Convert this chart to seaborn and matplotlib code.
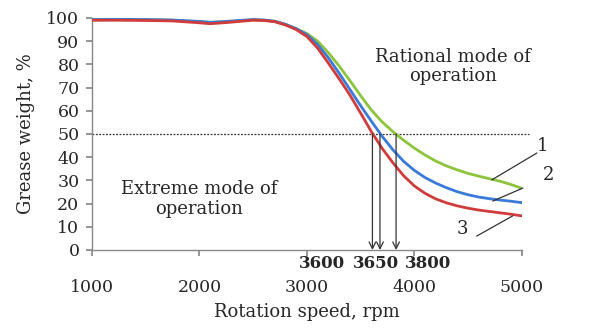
import numpy as np
import matplotlib
matplotlib.use("Agg")
import matplotlib.pyplot as plt
import seaborn as sns
import pandas as pd

sns.set_theme(style="ticks")
plt.rcParams['font.family'] = ['DejaVu Serif', 'Liberation Serif']

#%% data
speed = [1000, 1250, 1500, 1750, 2000, 2100, 2250, 2500, 2600, 2700, 2800,
         2900, 3000, 3100, 3200, 3300, 3400, 3500, 3600, 3700, 3800, 3900,
         4000, 4100, 4200, 4300, 4400, 4500, 4600, 4700, 4800, 4900, 5000]
curve1 = [99.2, 99.3, 99.2, 99.0, 98.4, 98.1, 98.4, 99.2, 99.0, 98.4, 97.0,
          95.4, 93.3, 90.0, 85.0, 79.3, 73.0, 66.5, 60.3, 55.2, 51.0, 47.3,
          43.9, 40.9, 38.3, 36.2, 34.5, 33.0, 31.8, 30.7, 29.6, 28.2, 26.6]
curve2 = [99.3, 99.4, 99.3, 99.1, 98.5, 98.1, 98.5, 99.3, 99.1, 98.6, 97.3,
          95.4, 92.8, 88.6, 82.8, 76.2, 69.2, 62.2, 55.5, 49.0, 43.2, 38.2,
          34.3, 31.2, 28.8, 26.8, 25.1, 23.8, 22.8, 22.1, 21.5, 21.0, 20.4]
curve3 = [99.0, 99.0, 98.9, 98.7, 97.9, 97.5, 98.0, 99.0, 98.9, 98.4, 97.0,
          95.0, 92.0, 87.0, 80.5, 73.8, 66.8, 59.0, 51.0, 43.8, 37.6, 32.0,
          27.6, 24.4, 22.0, 20.3, 19.0, 18.0, 17.2, 16.6, 16.0, 15.4, 14.7]
curve_names = ["1", "2", "3"]
cross_speed = [3610, 3680, 3830]          # where the arrows drop
cross_labels = ["3600", "3650", "3800"]
level = 50

df = pd.DataFrame({
    "speed": speed * 3,
    "weight": curve1 + curve2 + curve3,
    "curve": np.repeat(curve_names, len(speed)),
})

#%% plot
fig = plt.figure(figsize=(5.89, 3.32), dpi=100)
ax = fig.add_axes([0.156, 0.247, 0.730, 0.699])

sns.lineplot(data=df, x="speed", y="weight", hue="curve",
             palette=["#8cc43c", "#3a7ad8", "#d03c3c"],
             linewidth=2.0, legend=False, ax=ax, zorder=3)

ax.set_xlim(1000, 5000)
ax.set_ylim(0, 100)
ax.set_xticks(range(1000, 5001, 1000))
ax.set_yticks(range(0, 101, 10))
ax.tick_params(axis="both", labelsize=12.5, color="#888888", length=4)
ax.tick_params(axis="x", pad=17)
ax.tick_params(axis="y", pad=5)
for s in ["top", "right"]:
    ax.spines[s].set_visible(False)
for s in ["left", "bottom"]:
    ax.spines[s].set_color("#888888")
    ax.spines[s].set_linewidth(1)

ax.set_xlabel("Rotation speed, rpm", fontsize=13, labelpad=5)
ax.set_ylabel("Grease weight, %", fontsize=13, labelpad=8)

# 50 % dotted level
ax.plot([1000, 5070], [level, level], ls=(0, (1.5, 1.2)), color="#333333",
        lw=0.9, clip_on=False, zorder=2)

# arrows down to the axis
for xs in cross_speed:
    ax.annotate("", xy=(xs, 0), xytext=(xs, level),
                arrowprops=dict(arrowstyle="->", color="#333333", lw=0.9,
                                mutation_scale=12, shrinkA=0, shrinkB=0))

for xs, lab in zip([3140, 3645, 4125], cross_labels):
    ax.text(xs, -6, lab, ha="center", va="center", fontsize=12,
            fontweight="bold", clip_on=False)

ax.text(4360, 79, "Rational mode of\noperation", ha="center", va="center",
        fontsize=13, linespacing=1.1)
ax.text(2000, 22, "Extreme mode of\noperation", ha="center", va="center",
        fontsize=13, linespacing=1.1)

# curve number leaders
leaders = [((4720, 30.2), (5140, 41.8), (5195, 45.0)),
           ((4730, 21.1), (5010, 26.7), (5245, 32.3)),
           ((4580, 6.0), (4915, 14.7), (4450, 9.0))]
for (p0, p1, pt), name in zip(leaders, curve_names):
    ax.plot([p0[0], p1[0]], [p0[1], p1[1]], color="#333333", lw=0.9,
            clip_on=False, zorder=4)
    ax.text(pt[0], pt[1], name, ha="center", va="center", fontsize=13,
            clip_on=False)

plt.savefig("out.png", dpi=100)
